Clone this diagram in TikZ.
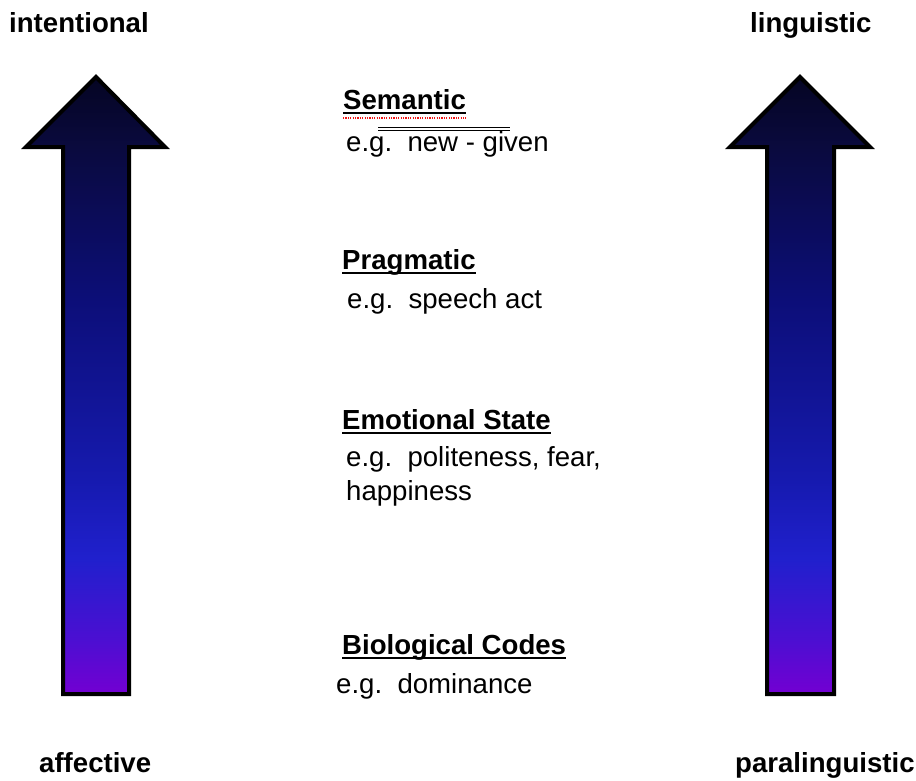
\documentclass[tikz,border=0pt]{standalone}
\usepackage{fontspec}
\setmainfont{Liberation Sans}
\usepackage{tikz}
\usetikzlibrary{shadings}
\definecolor{arrline}{RGB}{0,0,0}
\definecolor{arrtip}{RGB}{5,5,35}
\definecolor{arrhead}{RGB}{10,10,62}
\definecolor{arrupper}{RGB}{12,14,120}
\definecolor{arrmid}{RGB}{22,26,175}
\definecolor{arrblue}{RGB}{32,32,205}
\definecolor{arrlow}{RGB}{75,15,210}
\definecolor{arrbot}{RGB}{115,0,210}
\definecolor{spell}{RGB}{240,20,20}
\pgfdeclareverticalshading{arrfill}{100bp}{
  color(0bp)=(arrbot); color(25bp)=(arrbot); color(29.5bp)=(arrlow);
  color(36bp)=(arrblue); color(42.4bp)=(arrmid); color(57bp)=(arrupper);
  color(69.3bp)=(arrhead); color(75bp)=(arrtip); color(100bp)=(arrtip)}
\tikzset{
  arr/.style ={draw=arrline, line width=4pt, line join=miter, shading=arrfill},
  hd/.style  ={font=\fontsize{27.6}{34}\selectfont\bfseries, inner sep=0pt, anchor=base west},
  txt/.style ={font=\fontsize{27.6}{34}\selectfont, inner sep=0pt, anchor=base west},
  ul/.style  ={draw=black, line width=2pt},
}
\begin{document}
\begin{tikzpicture}[x=1pt,y=-1pt]
  \useasboundingbox (0,0) rectangle (916,780);
  % arrows
  \shadedraw[arr] (96,77) -- (165,147) -- (129,147) -- (129,694) -- (63,694)
    -- (63,147) -- (26,147) -- cycle;
  \shadedraw[arr] (800,77) -- (870,147) -- (834,147) -- (834,694) -- (767,694)
    -- (767,147) -- (730,147) -- cycle;
  % end labels
  \node[hd] (intent) at (9,32) {intentional};
  \node[hd] (ling) at (750,32) {linguistic};
  \node[hd] (affect) at (39,772) {affective};
  \node[hd] (paraling) at (735,772) {paralinguistic};
  % levels
  \node[hd] (sem) at (343,109.3) {Semantic};
  \node[txt] (semeg) at (346,151) {e.g.~~new - given};
  \node[hd] (prag) at (342,269.3) {Pragmatic};
  \node[txt] (prageg) at (347,308.3) {e.g.~~speech act};
  \node[hd] (emo) at (342,429.3) {Emotional State};
  \node[txt] (emoeg) at (346,466.7) {e.g.~~politeness, fear,};
  \node[txt] (emoeg2) at (346,500) {happiness};
  \node[hd] (bio) at (342,654) {Biological Codes};
  \node[txt] (bioeg) at (336,693) {e.g.~~dominance};
  % underlines
  \foreach \n in {sem,prag,emo,bio}
    \draw[ul] ([yshift=-4pt]\n.base west) -- ([yshift=-4pt]\n.base east);
  \draw[spell, line width=1.5pt, dash pattern=on 1.2pt off 1.2pt]
    ([yshift=-8.5pt]sem.base west) -- ([yshift=-8.5pt]sem.base east);
  \draw[line width=1.4pt] (378,127.5) -- (510,127.5);
  \draw[line width=1.2pt] (378,130.3) -- (510,130.3);
\end{tikzpicture}
\end{document}
